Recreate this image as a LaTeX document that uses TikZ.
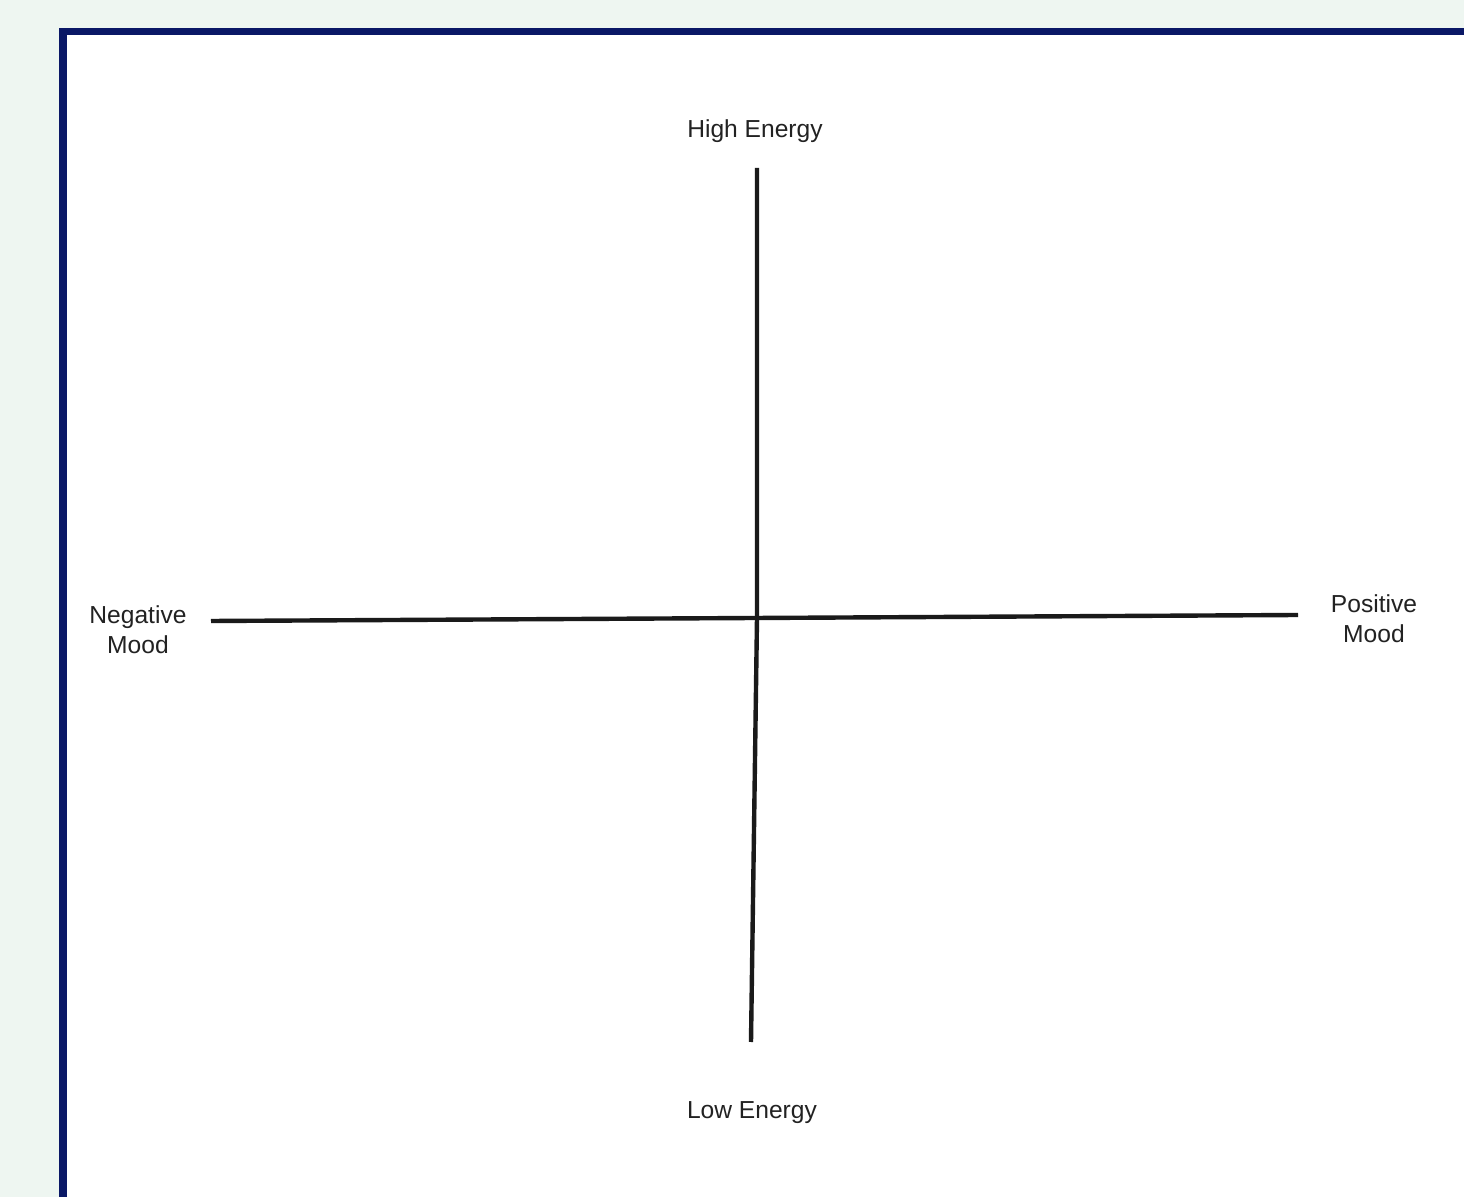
\documentclass[tikz,border=0pt]{standalone}
\usepackage{fontspec}
\setmainfont{Liberation Sans}
\definecolor{bgc}{HTML}{EEF6F1}
\definecolor{navy}{HTML}{0A1866}
\definecolor{axisc}{HTML}{1A1A1A}
\definecolor{txtc}{HTML}{222222}
\begin{document}
\begin{tikzpicture}[x=0.5pt,y=-0.5pt,
  axis/.style={draw=axisc,line width=2.2pt},
  lbl/.style={font=\fontsize{12.3}{15}\selectfont,text=txtc,align=center,inner sep=0pt}]
\useasboundingbox (0,0) rectangle (1464,1197);
\clip (0,0) rectangle (1464,1197);
\fill[bgc] (0,0) rectangle (1464,1197);
\draw[navy,fill=white,line width=3.6pt] (63,31.5) rectangle (1600,1300);
\coordinate (top) at (757,168);
\coordinate (mid) at (757,618);
\coordinate (bot) at (751,1042);
\coordinate (left) at (211,621);
\coordinate (right) at (1298,615);
\draw[axis] (top) -- (mid) -- (bot);
\draw[axis] (left) -- (right);
\node[lbl] (high) at (755,131) {High Energy};
\node[lbl] (low) at (752,1113) {Low Energy};
\node[lbl] (neg) at (138,630) {Negative\\Mood};
\node[lbl] (pos) at (1374,619) {Positive\\Mood};
\end{tikzpicture}
\end{document}
